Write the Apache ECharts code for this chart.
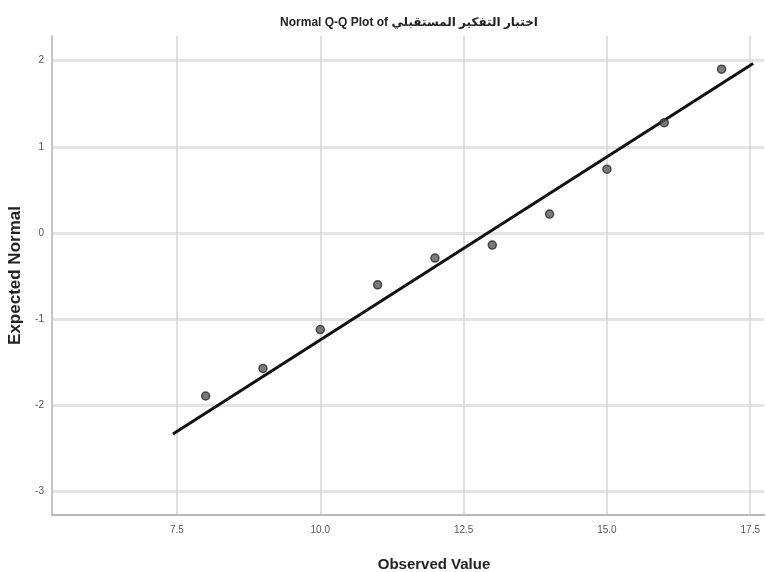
<!DOCTYPE html>
<html>
<head>
<meta charset="utf-8">
<script src="https://cdn.jsdelivr.net/npm/echarts@6/dist/echarts.min.js"></script>
<style>html,body{margin:0;padding:0;background:#fff;}#c{width:766px;height:572px;}</style>
</head>
<body>
<div id="c"></div>
<script>
var titleText = 'Normal Q-Q Plot of اختبار التفكير المستقبلي';
var xName = 'Observed Value';
var yName = 'Expected Normal';
var observed = [8, 9, 10, 11, 12, 13, 14, 15, 16, 17];
var expected = [-1.89, -1.57, -1.12, -0.60, -0.29, -0.14, 0.22, 0.74, 1.28, 1.90];
var lineX = [7.43, 17.55];
var lineY = [-2.33, 1.965];
var xTicks = [7.5, 10, 12.5, 15, 17.5];
var yTicks = [-3, -2, -1, 0, 1, 2];

var pts = observed.map(function (v, i) { return [v, expected[i]]; });
var linePts = lineX.map(function (v, i) { return [v, lineY[i]]; });

var chart = echarts.init(document.getElementById('c'), null, {renderer: 'canvas'});
var fam = '"Liberation Sans", "DejaVu Sans", sans-serif';
chart.setOption({
  animation: false,
  backgroundColor: '#fff',
  title: {
    text: titleText,
    left: 404, top: 12, textAlign: 'center',
    textStyle: {fontFamily: fam, fontSize: 12, fontWeight: 'bold', color: '#222'}
  },
  grid: {left: 52, right: 2, top: 36, bottom: 57, containLabel: false, outerBoundsMode: 'none'},
  xAxis: {
    type: 'value', min: 5.32, max: 17.74,
    name: xName, nameLocation: 'middle', nameGap: 42,
    nameTextStyle: {fontFamily: fam, fontSize: 15, fontWeight: 'bold', color: '#222', padding: [0, 0, 0, 52]},
    axisLine: {show: true, onZero: false, lineStyle: {color: '#b8b8b8', width: 2}},
    axisTick: {show: false, customValues: xTicks},
    axisLabel: {customValues: xTicks, fontFamily: fam, fontSize: 10, color: '#555', margin: 10,
      formatter: function (v) { return v.toFixed(1); }},
    splitLine: {show: true, lineStyle: {color: '#d6d6d6', width: 1.5}}
  },
  yAxis: {
    type: 'value', min: -3.27, max: 2.285,
    name: yName, nameLocation: 'middle', nameGap: 24,
    nameTextStyle: {fontFamily: fam, fontSize: 17, fontWeight: 'bold', color: '#222'},
    axisLine: {show: true, onZero: false, lineStyle: {color: '#c4c4c4', width: 2}},
    axisTick: {show: false, customValues: yTicks},
    axisLabel: {customValues: yTicks, fontFamily: fam, fontSize: 10, color: '#555', margin: 8},
    splitLine: {show: true, lineStyle: {color: '#e4e4e4', width: 3}}
  },
  series: [
    {
      type: 'line', data: linePts, symbol: 'none', silent: true,
      lineStyle: {color: '#111', width: 3}, z: 3
    },
    {
      type: 'scatter', data: pts, symbol: 'circle', symbolSize: 8,
      itemStyle: {color: '#5a5a5a', borderColor: '#2a2a2a', borderWidth: 1.5}, z: 4
    }
  ]
});
</script>
</body>
</html>
